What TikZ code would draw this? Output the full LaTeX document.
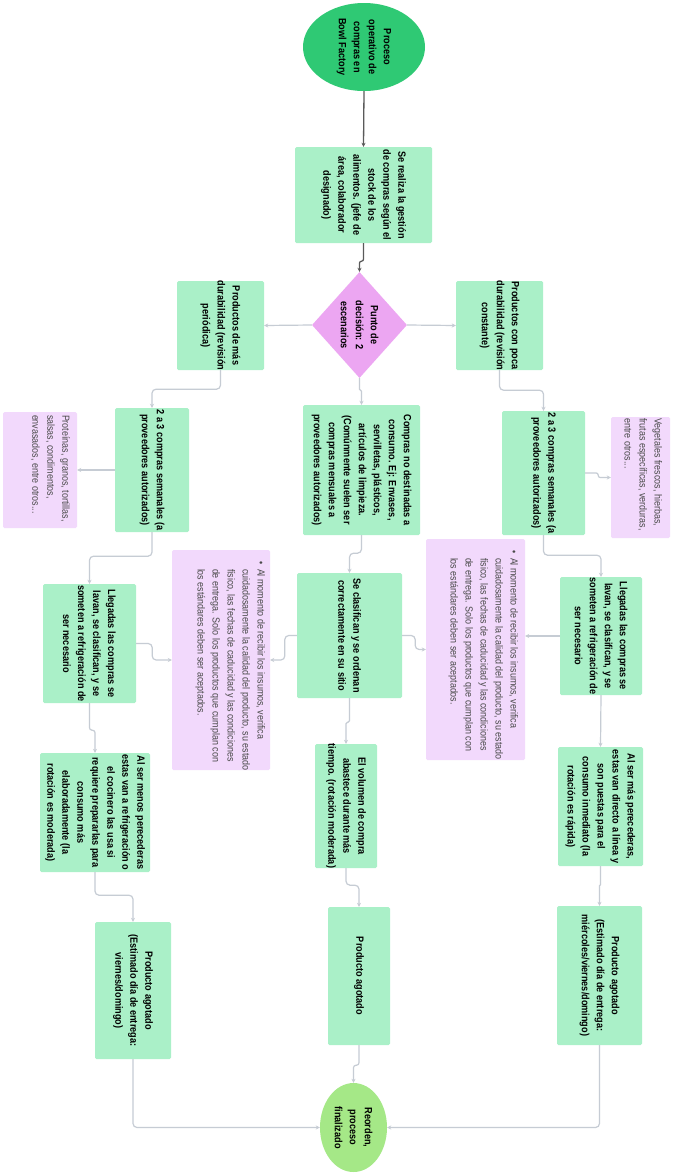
\documentclass[tikz,border=0pt]{standalone}
\usepackage{fontspec}
\setmainfont{Liberation Sans}[FakeStretch=0.87]
\usetikzlibrary{arrows.meta,shapes.geometric}
\definecolor{gfill}{HTML}{AAF0C8}
\definecolor{pfill}{HTML}{F2D9FC}
\definecolor{dfill}{HTML}{ECA6F2}
\definecolor{sfill}{HTML}{2FC974}
\definecolor{efill}{HTML}{A5E887}
\definecolor{cline}{HTML}{C6CCD4}
\definecolor{dline}{HTML}{5A5A5A}
\definecolor{ptext}{HTML}{4A4A4A}
\tikzset{
  sz/.style 2 args={minimum width=#1pt, minimum height=#2pt},
  gbox/.style={rectangle, fill=gfill, rounded corners=1.5pt, inner sep=0pt},
  pbox/.style={rectangle, fill=pfill, rounded corners=1.5pt, inner sep=0pt},
  btxt/.style={rotate=-90, align=center, inner sep=0pt, font=\fontsize{10.5}{15}\selectfont\bfseries, text=black},
  ptxt/.style={rotate=-90, align=left, inner sep=0pt, anchor=north west, font=\fontsize{10.3}{15}\selectfont, text=ptext},
  conn/.style={draw=cline, line width=1.2pt, rounded corners=4pt, -{Stealth[length=4pt,width=4pt]}},
  dconn/.style={draw=dline, line width=1.3pt, rounded corners=2pt, -{Stealth[length=4pt,width=4pt]}},
}
\newcommand{\bul}{\makebox[8pt][l]{\textbullet}}
\newcommand{\ind}{\hspace*{8pt}}
\begin{document}
\begin{tikzpicture}[x=1pt,y=-1pt]
\useasboundingbox (0,0) rectangle (676,1173);
\fill[white] (0,0) rectangle (676,1173);

% start
\node[ellipse, fill=sfill, sz={122}{88}, inner sep=0pt] (start) at (364,47) {};
\node[btxt] (startt) at (start) {Proceso\\operativo de\\compras en\\Bowl Factory};

\node[gbox, sz={137}{96}] (b1) at (363.5,195) {};
\node[btxt] (b1t) at (b1) {Se realiza la gestión\\de compras según el\\stock de los\\alimentos. (jefe de\\área, colaborador\\designado)};

\node[diamond, fill=dfill, sz={95}{106}, inner sep=0pt] (d) at (359.5,325) {};
\node[btxt] (dt) at (d) {Punto de\\decisión: 2\\escenarios};

\node[gbox, sz={87}{89}] (L1) at (220.5,325.5) {};
\node[btxt] (L1t) at (L1) {Productos de más\\durabilidad (revisión\\periódica)};
\node[gbox, sz={87}{89}] (R1) at (499.5,325.5) {};
\node[btxt] (R1t) at (R1) {Productos con poca\\durabilidad (revisión\\constante)};

\node[gbox, sz={117}{130}] (M1) at (361.5,470) {};
\node[btxt] (M1t) at (M1) {Compras no destinadas a\\consumo. Ej: Envases,\\servilletas, plásticos,\\artículos de limpieza.\\(Comúnmente suelen ser\\compras mensuales a\\proveedores autorizados)};

\node[gbox, sz={74}{124}] (L2) at (152,470) {};
\node[btxt] (L2t) at (L2) {2 a 3 compras semanales (a\\proveedores autorizados)};
\node[gbox, sz={83}{124}] (R2) at (543.5,473) {};
\node[btxt] (R2t) at (R2) {2 a 3 compras semanales (a\\proveedores autorizados)};

\node[pbox, sz={74}{116}] (LP) at (40,470) {};
\node[ptxt] (LPt) at ([xshift=-7pt,yshift=-3pt]LP.north east) {Proteínas, granos, tortillas,\\salsas, condimentos,\\envasados, entre otros...};
\node[pbox, sz={59}{121}] (RP) at (640.5,477.5) {};
\node[ptxt] (RPt) at ([xshift=-8pt,yshift=-1.5pt]RP.north east) {Vegetales frescos, hierbas,\\frutas específicas, verduras,\\entre otros...};

\node[gbox, sz={93}{119}] (L3) at (89.5,643.5) {};
\node[btxt] (L3t) at (L3) {Llegadas las compras se\\lavan, se clasifican, y se\\someten a refrigeración de\\ser necesario};
\node[gbox, sz={105}{125}] (M3) at (349.5,635.5) {};
\node[btxt] (M3t) at (M3) {Se clasifican y se ordenan\\correctamente en su sitio};
\node[gbox, sz={82}{118}] (R3) at (601,636) {};
\node[btxt] (R3t) at (R3) {Llegadas las compras se\\lavan, se clasifican, y se\\someten a refrigeración de\\ser necesario};

\node[pbox, sz={98}{220}] (LB) at (221,660) {};
\node[ptxt] (LBt) at ([xshift=-5pt,yshift=-11pt]LB.north east) {\bul Al momento de recibir los insumos, verifica\\\ind cuidadosamente la calidad del producto, su estado\\\ind físico, las fechas de caducidad y las condiciones\\\ind de entrega. Solo los productos que cumplan con\\\ind los estándares deben ser aceptados.};
\node[pbox, sz={99}{221}] (RB) at (475.5,649.5) {};
\node[ptxt] (RBt) at ([xshift=-7pt,yshift=-11pt]RB.north east) {\bul Al momento de recibir los insumos, verifica\\\ind cuidadosamente la calidad del producto, su estado\\\ind físico, las fechas de caducidad y las condiciones\\\ind de entrega. Solo los productos que cumplan con\\\ind los estándares deben ser aceptados.};

\node[gbox, sz={110}{119}] (L4) at (95,812.5) {};
\node[btxt] (L4t) at (L4) {Al ser menos perecederas\\estas van a refrigeración o\\el cocinero las usa si\\requiere prepararlas para\\consumo más\\elaboradamente (la\\rotación es moderada)};
\node[gbox, sz={62}{124}] (M4) at (346,806) {};
\node[btxt] (M4t) at (M4) {El volumen de compra\\abastece durante más\\tiempo. (rotación moderada)};
\node[gbox, sz={85}{119}] (R4) at (600.5,806.5) {};
\node[btxt] (R4t) at (R4) {Al ser más perecederas,\\estas van directo a línea y\\son puestas para el\\consumo inmediato (la\\rotación es rápida)};

\node[gbox, sz={76}{137}] (L5) at (133,990.5) {};
\node[btxt] (L5t) at (L5) {Producto agotado\\(Estimado día de entrega:\\viernes/domingo)};
\node[gbox, sz={62}{138}] (M5) at (359,976) {};
\node[btxt] (M5t) at (M5) {Producto agotado};
\node[gbox, sz={85}{139}] (R5) at (599.5,975.5) {};
\node[btxt] (R5t) at (R5) {Producto agotado\\(Estimado día de entrega:\\miércoles/viernes/domingo)};

\node[ellipse, fill=efill, sz={67}{89}, inner sep=0pt] (end) at (353.5,1127.5) {};
\node[btxt] (endt) at (end) {Reorden,\\proceso\\finalizado};

% connectors
\draw[dconn] (start.south) -- (b1.north);
\draw[dconn] (b1.south) -- ++(0,18) -| (d.north);
\draw[conn] (d.west) -- (L1.east);
\draw[conn] (d.east) -- (R1.west);
\draw[conn, rounded corners=1pt] (d.south) -- ++(0,12) -| (M1.north);
\draw[conn] (L1.south) -- ++(0,19) -| (L2.north);
\draw[conn] (R1.south) -- ++(0,20) -| (R2.north);
\draw[conn] (L2.west) -- (LP.east);
\draw[conn, rounded corners=2pt] (R2.east) -- ++(13,0) |- (RP.west);
\draw[conn] (L2.south) -- ++(0,24) -| (L3.north);
\draw[conn] (M1.south) -- ++(0,18) -| (M3.north);
\draw[conn] (R2.south) -- ++(0,20) -| (R3.north);
\draw[conn] (L3.east) -- ++(16,0) |- (LB.west);
\draw[conn] (M3.west) -- ++(-12,0) |- (LB.east);
\draw[conn] (M3.east) -- ++(13,0) |- (RB.west);
\draw[conn] (R3.west) -- (R3.west -| RB.east);
\draw[conn, rounded corners=2.5pt] (L3.south) -- ++(0,27) -| (L4.north);
\draw[conn, rounded corners=1.5pt] (M3.south) -- ++(0,24) -| (M4.north);
\draw[conn] (R3.south) -- (R4.north);
\draw[conn] (L4.south) -- ++(0,23) -| (L5.north);
\draw[conn] (M4.south) -- ++(0,17) -| (M5.north);
\draw[conn, rounded corners=0.5pt] (R4.south) -- ++(0,19) -| (R5.north);
\draw[conn, rounded corners=2.5pt] (M5.south) -- ++(0,20) -| (end.north);
\draw[conn] (L5.south) |- (end.west);
\draw[conn] (R5.south) |- (end.east);
\end{tikzpicture}
\end{document}
